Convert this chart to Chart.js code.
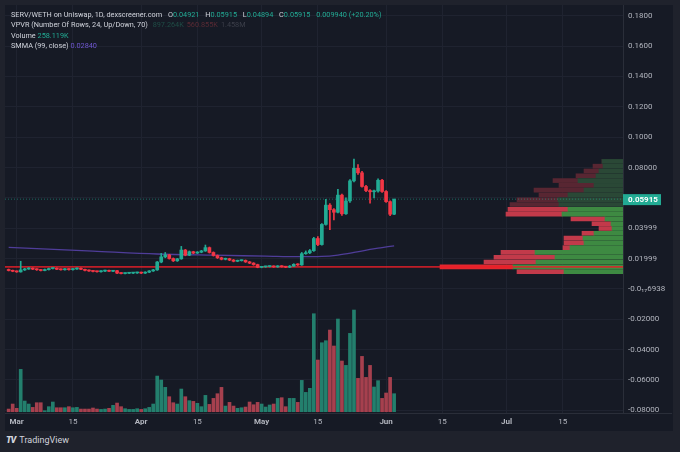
<!DOCTYPE html>
<html>
<head>
<meta charset="utf-8">
<script src="https://cdn.jsdelivr.net/npm/chart.js@4.4.1/dist/chart.umd.min.js"></script>
<style>
  html, body { margin: 0; padding: 0; width: 680px; height: 452px; overflow: hidden; background: #1f222c; font-family: Roboto, "Noto Sans", sans-serif; }
  #panel { position: absolute; left: 5px; top: 5px; width: 668px; height: 426px; background: #161a25; }
  #chart { position: absolute; left: 0; top: 0; }
  #legend { position: absolute; left: 6px; top: 5px; font-size: 7.3px; line-height: 10.3px; color: #d1d4dc; white-space: nowrap; }
  #legend .g { color: #22ab94; }
  #legend .k { margin-left: 4px; }
  #legend .p { color: #6e56cf; }
  #legend .dg { color: #1f4d46; margin-left: 3px; }
  #legend .dr { color: #5a2a34; margin-left: 3px; }
  #legend .dn { color: #3c3f4a; margin-left: 3px; }
  #footer { position: absolute; left: 6px; top: 435px; font-size: 9px; color: #d1d4dc; white-space: nowrap; }
  #footer b { font-weight: 900; letter-spacing: -1px; margin-right: 4px; font-style: italic; }
</style>
</head>
<body>
<div id="panel">
  <canvas id="chart" width="668" height="426"></canvas>
  <div id="legend">
    <div>SERV/WETH on Uniswap, 1D, dexscreener.com <span class="k">O</span><span class="g">0.04921</span> <span class="k">H</span><span class="g">0.05915</span> <span class="k">L</span><span class="g">0.04894</span> <span class="k">C</span><span class="g">0.05915</span> <span class="g" style="margin-left:4px">0.009940 (+20.20%)</span></div>
    <div>VPVR (Number Of Rows, 24, Up/Down, 70) <span class="dg">897.264K</span><span class="dr">560.855K</span><span class="dn">1.458M</span></div>
    <div>Volume <span class="g">258.119K</span></div>
    <div>SMMA (99, close) <span class="p">0.02840</span></div>
  </div>
</div>
<div id="footer"><b>TV</b>TradingView</div>
<script>
// dates (2024, MM-DD), one candle per day
const dates = [
  "02-28", "02-29",
  "03-01", "03-02", "03-03", "03-04", "03-05", "03-06", "03-07", "03-08", "03-09", "03-10",
  "03-11", "03-12", "03-13", "03-14", "03-15", "03-16", "03-17", "03-18", "03-19", "03-20",
  "03-21", "03-22", "03-23", "03-24", "03-25", "03-26", "03-27", "03-28", "03-29", "03-30", "03-31",
  "04-01", "04-02", "04-03", "04-04", "04-05", "04-06", "04-07", "04-08", "04-09", "04-10",
  "04-11", "04-12", "04-13", "04-14", "04-15", "04-16", "04-17", "04-18", "04-19", "04-20",
  "04-21", "04-22", "04-23", "04-24", "04-25", "04-26", "04-27", "04-28", "04-29", "04-30",
  "05-01", "05-02", "05-03", "05-04", "05-05", "05-06", "05-07", "05-08", "05-09", "05-10",
  "05-11", "05-12", "05-13", "05-14", "05-15", "05-16", "05-17", "05-18", "05-19", "05-20",
  "05-21", "05-22", "05-23", "05-24", "05-25", "05-26", "05-27", "05-28", "05-29", "05-30", "05-31",
  "06-01", "06-02", "06-03",
];

const opens = [
  0.0128, 0.0121,
  0.0116, 0.0112, 0.0125, 0.0131, 0.0136, 0.0130, 0.0126, 0.0121, 0.0127, 0.0134,
  0.0136, 0.0129, 0.0126, 0.0131, 0.0127, 0.0131, 0.0135, 0.0129, 0.0122, 0.0118,
  0.0115, 0.0113, 0.0117, 0.0121, 0.0116, 0.0120, 0.0104, 0.0101, 0.0103, 0.0104, 0.0105,
  0.0107, 0.0104, 0.0110, 0.0118, 0.0125, 0.0177, 0.0211, 0.0224, 0.0200, 0.0185,
  0.0198, 0.0256, 0.0222, 0.0245, 0.0236, 0.0242, 0.0250, 0.0272, 0.0240, 0.0220,
  0.0205, 0.0195, 0.0199, 0.0190, 0.0182, 0.0186, 0.0188, 0.0178, 0.0170, 0.0160,
  0.0142, 0.0145, 0.0147, 0.0149, 0.0145, 0.0150, 0.0146, 0.0143, 0.0150, 0.0162,
  0.0158, 0.0232, 0.0238, 0.0252, 0.0332, 0.0292, 0.0425, 0.0552, 0.0522, 0.0505,
  0.0618, 0.0495, 0.0580, 0.0712, 0.0795, 0.0765, 0.0675, 0.0648, 0.0640, 0.0645, 0.0716,
  0.0642, 0.0575, 0.04921,
];
const highs = [
  0.0131, 0.0124,
  0.0119, 0.0182, 0.0135, 0.0140, 0.0139, 0.0133, 0.0129, 0.0131, 0.0137, 0.0139,
  0.0138, 0.0132, 0.0134, 0.0134, 0.0134, 0.0138, 0.0138, 0.0131, 0.0125, 0.0121,
  0.0118, 0.0120, 0.0124, 0.0124, 0.0123, 0.0122, 0.0107, 0.0106, 0.0107, 0.0108, 0.0110,
  0.0110, 0.0113, 0.0121, 0.0129, 0.0181, 0.0234, 0.0240, 0.0228, 0.0204, 0.0201,
  0.0280, 0.0260, 0.0250, 0.0248, 0.0246, 0.0254, 0.0289, 0.0276, 0.0244, 0.0224,
  0.0209, 0.0203, 0.0202, 0.0194, 0.0190, 0.0191, 0.0191, 0.0181, 0.0173, 0.0163,
  0.0148, 0.0150, 0.0152, 0.0152, 0.0153, 0.0153, 0.0149, 0.0154, 0.0166, 0.0166,
  0.0240, 0.0250, 0.0260, 0.0340, 0.0345, 0.0430, 0.0590, 0.0562, 0.0530, 0.0656,
  0.0625, 0.0600, 0.0720, 0.0856, 0.0820, 0.0775, 0.0682, 0.0655, 0.0652, 0.0725, 0.0722,
  0.0648, 0.0580, 0.05915,
];
const lows = [
  0.0118, 0.0113,
  0.0109, 0.0110, 0.0121, 0.0128, 0.0127, 0.0122, 0.0118, 0.0119, 0.0124, 0.0131,
  0.0126, 0.0123, 0.0123, 0.0124, 0.0124, 0.0128, 0.0126, 0.0119, 0.0115, 0.0112,
  0.0110, 0.0110, 0.0114, 0.0113, 0.0113, 0.0101, 0.0098, 0.0098, 0.0100, 0.0101, 0.0102,
  0.0101, 0.0101, 0.0107, 0.0115, 0.0122, 0.0172, 0.0205, 0.0196, 0.0180, 0.0181,
  0.0195, 0.0218, 0.0219, 0.0232, 0.0233, 0.0238, 0.0247, 0.0236, 0.0216, 0.0200,
  0.0191, 0.0191, 0.0186, 0.0178, 0.0179, 0.0183, 0.0174, 0.0166, 0.0156, 0.0139,
  0.0139, 0.0142, 0.0144, 0.0142, 0.0142, 0.0143, 0.0140, 0.0140, 0.0147, 0.0154,
  0.0155, 0.0228, 0.0232, 0.0247, 0.0285, 0.0288, 0.0420, 0.0390, 0.0455, 0.0500,
  0.0485, 0.0490, 0.0570, 0.0705, 0.0755, 0.0670, 0.0640, 0.0565, 0.0600, 0.0638, 0.0636,
  0.0570, 0.0482, 0.04894,
];
const closes = [
  0.0121, 0.0116,
  0.0112, 0.0125, 0.0131, 0.0136, 0.0130, 0.0126, 0.0121, 0.0127, 0.0134, 0.0136,
  0.0129, 0.0126, 0.0131, 0.0127, 0.0131, 0.0135, 0.0129, 0.0122, 0.0118, 0.0115,
  0.0113, 0.0117, 0.0121, 0.0116, 0.0120, 0.0104, 0.0101, 0.0103, 0.0104, 0.0105, 0.0107,
  0.0104, 0.0110, 0.0118, 0.0125, 0.0177, 0.0211, 0.0224, 0.0200, 0.0185, 0.0198,
  0.0256, 0.0222, 0.0245, 0.0236, 0.0242, 0.0250, 0.0272, 0.0240, 0.0220, 0.0205,
  0.0195, 0.0199, 0.0190, 0.0182, 0.0186, 0.0188, 0.0178, 0.0170, 0.0160, 0.0142,
  0.0145, 0.0147, 0.0149, 0.0145, 0.0150, 0.0146, 0.0143, 0.0150, 0.0162, 0.0158,
  0.0232, 0.0238, 0.0252, 0.0332, 0.0292, 0.0425, 0.0552, 0.0522, 0.0505, 0.0618,
  0.0495, 0.0580, 0.0712, 0.0795, 0.0765, 0.0675, 0.0648, 0.0640, 0.0645, 0.0716, 0.0642,
  0.0575, 0.0492, 0.05915,
];
// volume in K
const volumes = [
  38, 110, 48, 607, 153, 110, 62, 129, 129, 14,
  72, 139, 57, 57, 57, 72, 57, 62, 38, 38,
  38, 53, 38, 33, 38, 48, 91, 124, 72, 43,
  33, 33, 43, 33, 43, 62, 110, 511, 454, 349,
  215, 129, 110, 325, 215, 158, 148, 120, 72, 234,
  105, 191, 258, 349, 81, 134, 81, 48, 57, 67,
  139, 100, 134, 110, 67, 96, 110, 191, 201, 72,
  191, 191, 134, 449, 277, 335, 1405, 741, 989, 1018,
  1171, 942, 1329, 727, 664, 1123, 1458, 478, 793, 492,
  664, 354, 445, 191, 268, 492, 258.119,
];

// SMMA (99, close), read at a few dates
const smmaDates = ["02-28", "03-20", "04-05", "04-19", "05-02", "05-10", "05-16", "05-20", "05-24", "05-28", "05-31", "06-03"];
const smmaValues = [0.0274, 0.0249, 0.0230, 0.0222, 0.0216, 0.0212, 0.0214, 0.0223, 0.0240, 0.0260, 0.0272, 0.0284];

// VPVR, 24 rows, top row first
const vpUp =   [21, 20, 24, 27, 45, 29, 39, 55, 65, 64, 55, 61, 18, 12, 11, 29, 40, 39, 53, 88, 68, 87, 110, 59];
const vpDown = [0, 10, 15, 20, 25, 35, 50, 29, 41, 49, 60, 56, 34, 19, 13, 12, 19, 20, 7, 34, 61, 52, 73, 47];
const valueAreaTop = 0.054;

const xTickDates = ["03-01", "03-15", "04-01", "04-15", "05-01", "05-15", "06-01", "06-15", "07-01", "07-15"];
const xTickLabels = ["Mar", "15", "Apr", "15", "May", "15", "Jun", "15", "Jul", "15"];
const priceTicks = [0.18, 0.16, 0.14, 0.12, 0.10, 0.08, 0.06, 0.04, 0.02, 0, -0.02, -0.04, -0.06, -0.08];
const priceTickLabels = ["0.1800", "0.1600", "0.1400", "0.1200", "0.1000", "0.08000", "0.06000", "0.03999", "0.01999", "-0.0\u2081\u20876938", "-0.02000", "-0.04000", "-0.06000", "-0.08000"];

const GREEN = "#22ab94";
const RED = "#f23645";
const PANEL = "#161a25";
const FONT = "Roboto, 'Noto Sans', sans-serif";

const toDay = (s) => (Date.UTC(2024, +s.slice(0, 2) - 1, +s.slice(3)) - Date.UTC(2024, 2, 1)) / 86400000;
const days = dates.map(toDay);
const isUp = closes.map((c, i) => c >= opens[i]);

const xMin = -2.91, xMax = 151.0;
const yMin = -0.0818, yMax = 0.1871;

// VPVR rows
const vpHigh = Math.max(...highs);
const vpLow = Math.min(...lows);
const rowSize = (vpHigh - vpLow) / vpUp.length;
const rowPrice = vpUp.map((_, i) => vpHigh - (i + 0.5) * rowSize);
const totals = vpUp.map((u, i) => u + vpDown[i]);
const pocIndex = totals.indexOf(Math.max(...totals));
const pocPrice = rowPrice[pocIndex];
const lastClose = closes[closes.length - 1];

const ctx = document.getElementById("chart").getContext("2d");

const priceLabel = {
  id: "priceLabel",
  afterDraw(chart) {
    const { ctx, chartArea, scales } = chart;
    const c = ctx;
    c.save();
    // hide the part of the lowest label that runs into the time axis
    c.fillStyle = PANEL;
    c.fillRect(chartArea.right + 1, chartArea.bottom, chart.width - chartArea.right, chart.height - chartArea.bottom);
    c.strokeStyle = "#2a2e39";
    c.lineWidth = 1;
    c.beginPath();
    c.moveTo(0, chartArea.bottom + 0.5);
    c.lineTo(chart.width - 1, chartArea.bottom + 0.5);
    c.stroke();
    // last price box
    const y = scales.y.getPixelForValue(lastClose);
    c.fillStyle = GREEN;
    c.fillRect(chartArea.right, y - 5, 38, 11);
    c.fillStyle = "#ffffff";
    c.font = "bold 8px " + FONT;
    c.textBaseline = "middle";
    c.fillText(lastClose.toFixed(5), chartArea.right + 5, y + 0.5);
    c.restore();
  },
};

const chart = new Chart(ctx, {
  type: "bar",
  data: {
    datasets: [
      {
        // candle bodies
        type: "bar",
        data: days.map((d, i) => ({ x: d, y: [Math.min(opens[i], closes[i]), Math.max(opens[i], closes[i])] })),
        backgroundColor: isUp.map((u) => (u ? GREEN : RED)),
        barThickness: 3,
        minBarLength: 1,
        grouped: false,
        xAxisID: "x",
        yAxisID: "y",
        order: 1,
      },
      {
        // wicks
        type: "bar",
        data: days.map((d, i) => ({ x: d, y: [lows[i], highs[i]] })),
        backgroundColor: isUp.map((u) => (u ? GREEN : RED)),
        barThickness: 1,
        grouped: false,
        xAxisID: "x",
        yAxisID: "y",
        order: 2,
      },
      {
        // POC line
        type: "line",
        data: [{ x: xMin, y: pocPrice }, { x: xMax, y: pocPrice }],
        borderColor: "rgba(235, 30, 40, 0.8)",
        borderWidth: 1.6,
        pointRadius: 0,
        xAxisID: "x",
        yAxisID: "y",
        order: 3,
      },
      {
        // last price line
        type: "line",
        data: [{ x: xMin, y: lastClose }, { x: xMax, y: lastClose }],
        borderColor: "rgba(34, 171, 148, 0.55)",
        borderWidth: 1,
        borderDash: [1, 2],
        pointRadius: 0,
        xAxisID: "x",
        yAxisID: "y",
        order: 3,
      },
      {
        // SMMA
        type: "line",
        data: smmaDates.map((s, i) => ({ x: toDay(s), y: smmaValues[i] })),
        borderColor: "#4f3d99",
        borderWidth: 1.3,
        pointRadius: 0,
        cubicInterpolationMode: "monotone",
        xAxisID: "x",
        yAxisID: "y",
        order: 4,
      },
      {
        // VPVR up
        type: "bar",
        indexAxis: "y",
        data: rowPrice.map((p, i) => ({ x: [0, vpUp[i]], y: p })),
        backgroundColor: rowPrice.map((p) => (p < valueAreaTop ? "#3e8a42" : "#2a4836")),
        barThickness: 4,
        grouped: false,
        xAxisID: "xV",
        yAxisID: "y",
        order: 5,
      },
      {
        // VPVR down
        type: "bar",
        indexAxis: "y",
        data: rowPrice.map((p, i) => ({ x: [vpUp[i], vpUp[i] + vpDown[i]], y: p })),
        backgroundColor: rowPrice.map((p, i) => (i === pocIndex ? "#e2272e" : p < valueAreaTop ? "#c23a4a" : "#582632")),
        barThickness: 4,
        grouped: false,
        xAxisID: "xV",
        yAxisID: "y",
        order: 5,
      },
      {
        // volume
        type: "bar",
        data: days.map((d, i) => ({ x: d, y: volumes[i] })),
        backgroundColor: isUp.map((u) => (u ? "#237f6d" : "#a6404e")),
        barThickness: 3,
        grouped: false,
        xAxisID: "x",
        yAxisID: "yVol",
        order: 6,
      },
    ],
  },
  options: {
    responsive: false,
    animation: false,
    layout: { padding: 0 },
    plugins: { legend: { display: false }, tooltip: { enabled: false } },
    scales: {
      x: {
        type: "linear",
        position: "bottom",
        min: xMin,
        max: xMax,
        offset: false,
        grid: { color: "#1f2330", offset: false, drawTicks: false },
        border: { color: "#2a2e39" },
        afterBuildTicks: (s) => { s.ticks = xTickDates.map((t) => ({ value: toDay(t) })); },
        afterFit: (s) => { s.height = 18; s.paddingLeft = 0; s.paddingRight = 0; },
        ticks: {
          padding: 4,
          color: "#b2b5be",
          maxRotation: 0,
          autoSkip: false,
          font: (c) => ({ family: FONT, size: 8, weight: isNaN(+xTickLabels[c.index]) ? "bold" : "normal" }),
          callback: (v, i) => xTickLabels[i],
        },
      },
      y: {
        type: "linear",
        position: "right",
        min: yMin,
        max: yMax,
        offset: false,
        grid: { color: "#1f2330", drawTicks: false, offset: false },
        border: { color: "#2a2e39" },
        afterBuildTicks: (s) => { s.ticks = priceTicks.map((v) => ({ value: v })); },
        afterFit: (s) => { s.width = 50; s.paddingTop = 0; s.paddingBottom = 0; },
        ticks: {
          padding: 5,
          color: "#b2b5be",
          font: { family: FONT, size: 8 },
          callback: (v, i) => priceTickLabels[i],
        },
      },
      yVol: {
        type: "linear",
        display: false,
        offset: false,
        min: -18.6,
        max: 5832,
      },
      xV: {
        type: "linear",
        axis: "x",
        display: false,
        offset: false,
        grid: { offset: false },
        reverse: true,
        min: 0,
        max: 618,
      },
    },
  },
  plugins: [priceLabel],
});
</script>
</body>
</html>
